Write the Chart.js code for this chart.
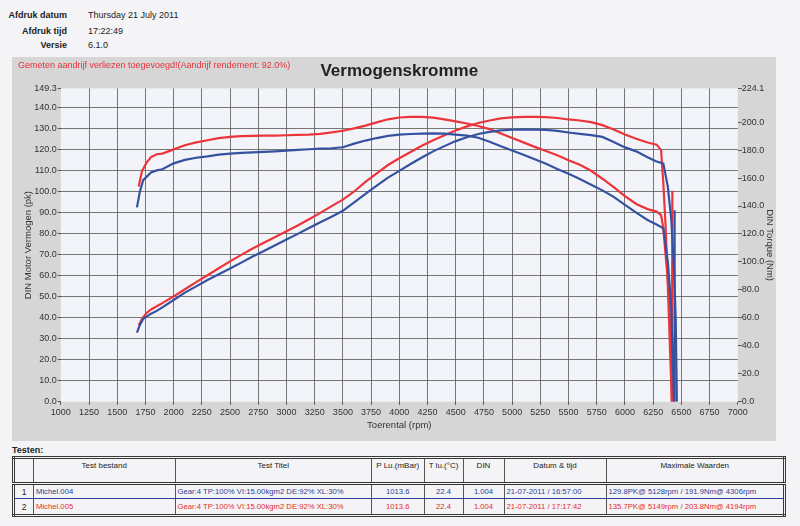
<!DOCTYPE html>
<html>
<head>
<meta charset="utf-8">
<script src="https://cdn.jsdelivr.net/npm/chart.js@4.4.0/dist/chart.umd.min.js"></script>
<style>
body { margin: 0; width: 800px; height: 526px; position: relative; overflow: hidden; background: #f4f4f6; font-family: 'Liberation Sans', Arial, sans-serif; color: #222; }
.lbl { position: absolute; font-size: 9px; font-weight: bold; text-align: right; width: 67px; left: 0; }
.val { position: absolute; font-size: 9px; left: 88px; }
#frame { position: absolute; left: 12px; top: 57px; width: 764px; height: 384px; background: #d6d6d6; }
#note { position: absolute; left: 18px; top: 60px; font-size: 9px; color: #e8303a; }
#testen { position: absolute; left: 12px; top: 445px; font-size: 9px; font-weight: bold; }
table { position: absolute; left: 12px; top: 456px; width: 772px; border-collapse: collapse; table-layout: fixed;
        border: 3px double #3a3a3a; font-size: 7.7px; font-family: 'Liberation Sans', Arial, sans-serif; }
td, th { border: 1px solid #555; padding: 0 2px; white-space: nowrap; overflow: hidden; }
th { font-weight: normal; height: 21px; vertical-align: top; padding-top: 2px; border-bottom: 3px double #333; color: #222; font-size: 8px; }
tr.r1 td { height: 13px; color: #2b3d98; border-bottom: 1px solid #2b3d98; }
tr.r2 td { height: 15px; color: #e42b2b; }
td.c { text-align: center; }
td.n { color: #222 !important; text-align: center; font-size: 8.5px; }
</style>
</head>
<body>
<div class="lbl" style="top:10px">Afdruk datum</div>
<div class="val" style="top:10px">Thursday 21 July 2011</div>
<div class="lbl" style="top:26px">Afdruk tijd</div>
<div class="val" style="top:26px">17:22:49</div>
<div class="lbl" style="top:40px">Versie</div>
<div class="val" style="top:40px">6.1.0</div>

<div id="frame"><canvas id="dynoChart" width="764" height="384"></canvas></div>
<div id="note">Gemeten aandrijf verliezen toegevoegd!(Aandrijf rendement: 92.0%)</div>

<div id="testen">Testen:</div>
<table>
  <colgroup>
    <col style="width:20px"><col style="width:141.5px"><col style="width:196.5px"><col style="width:52.5px">
    <col style="width:39px"><col style="width:41px"><col style="width:102px"><col style="width:178.5px">
  </colgroup>
  <tr><th></th><th>Test bestand</th><th>Test Titel</th><th>P Lu.(mBar)</th><th>T lu.(°C)</th><th>DIN</th><th>Datum &amp; tijd</th><th>Maximale Waarden</th></tr>
  <tr class="r1"><td class="n">1</td><td>Michel.004</td><td>Gear:4 TP:100% VI:15.00kgm2 DE:92% XL:30%</td><td class="c">1013.6</td><td class="c">22.4</td><td class="c">1.004</td><td>21-07-2011 / 16:57:00</td><td>129.8PK@ 5128rpm / 191.9Nm@ 4306rpm</td></tr>
  <tr class="r2"><td class="n">2</td><td>Michel.005</td><td>Gear:4 TP:100% VI:15.00kgm2 DE:92% XL:30%</td><td class="c">1013.6</td><td class="c">22.4</td><td class="c">1.004</td><td>21-07-2011 / 17:17:42</td><td>135.7PK@ 5149rpm / 203.8Nm@ 4194rpm</td></tr>
</table>

<script>
// ==================== DYNO DATA ====================

// Michel.004 (blue)
const blueRpm = [1675, 1700, 1730, 1800, 1850, 1900,
    2000, 2100, 2200, 2300, 2400, 2500, 2600, 2700, 2800, 2900,
    3000, 3100, 3200, 3300, 3400, 3500, 3600, 3700, 3800, 3900,
    4000, 4100, 4200, 4300, 4400, 4500, 4600, 4700, 4800, 4900,
    5000, 5100, 5200, 5300, 5400, 5500, 5600, 5700, 5800, 5900,
    6000, 6100, 6200, 6280, 6340, 6380, 6410, 6435, 6440, 6450, 6460];
const bluePower = [33, 36.5, 39.5, 42, 43.3, 45,
    48.5, 52, 55, 58, 60.8, 63.5, 66.3, 69.2, 71.8, 74.6,
    77.3, 80, 82.8, 85.5, 88.2, 91, 95, 99, 103, 106.8,
    110, 113.3, 116.4, 119.3, 121.8, 124.2, 126, 127.6, 128.6, 129.3,
    129.6, 129.8, 129.7, 129.5, 129.1, 128.3, 127.6, 127, 126.2, 123.8,
    121.2, 119.3, 116.5, 114.5, 113.5, 102.4, 87, 63, null, 39, 0];
const blueTorque = [139, 150, 158.5, 164, 165.5, 166.3,
    170.5, 173, 174.5, 175.5, 176.7, 177.5, 178, 178.3, 178.7, 179.1,
    179.6, 180.1, 180.6, 181, 181.3, 182, 184.6, 186.8, 188.6, 190.2,
    191, 191.5, 191.8, 191.9, 191.7, 191.1, 190.3, 188.8, 186, 182.8,
    179.7, 176.6, 173.4, 170.3, 166.5, 163, 159.3, 155.2, 151.2, 146.5,
    140.8, 135.3, 130, 126.8, 124, 100, 68, 0, 137, null, null];

// Michel.005 (red)
const redRpm = [1690, 1720, 1760, 1800, 1850, 1900,
    2000, 2100, 2200, 2300, 2400, 2500, 2600, 2700, 2800, 2900,
    3000, 3100, 3200, 3300, 3400, 3500, 3600, 3700, 3800, 3900,
    4000, 4100, 4200, 4300, 4400, 4500, 4600, 4700, 4800, 4900,
    5000, 5100, 5200, 5300, 5400, 5500, 5600, 5700, 5800, 5900,
    6000, 6100, 6200, 6280, 6320, 6340, 6360, 6380, 6400, 6416, 6420];
const redPower = [36.5, 39.5, 42.3, 44, 45.5, 47,
    50.2, 53.6, 57, 60.3, 63.6, 66.9, 70, 73, 75.8, 78.5,
    81.2, 84, 87, 90, 93.2, 96.3, 100.2, 104.8, 108.8, 112.8,
    116, 119, 122, 124.6, 127, 129.2, 131.2, 132.8, 134, 135,
    135.5, 135.7, 135.7, 135.6, 135.2, 134.5, 134, 133.2, 131.8, 129.7,
    127.3, 125.3, 123.5, 122.5, 120, 104, 84, 55, 24, 0, null];
const redTorque = [154, 165, 171, 175, 177, 177.5,
    180.5, 183.5, 185.5, 187, 188.5, 189.5, 190, 190.2, 190.3, 190.3,
    190.6, 190.9, 191, 191.6, 192.6, 193.8, 195.5, 197.5, 199.8, 202,
    203.3, 203.8, 203.8, 203.2, 202, 200.5, 199, 197.2, 195, 191.8,
    188.7, 185.5, 182.3, 179.3, 176.3, 172.8, 169.5, 165.2, 159.5, 153.5,
    147, 141.5, 137.8, 136, 133.5, 124, 105, 87, 60, 0, 151];

// Axis ticks
const powerTicks = [0, 10, 20, 30, 40, 50, 60, 70, 80, 90, 100, 110, 120, 130, 140, 149.3];
const torqueTicks = [0, 20, 40, 60, 80, 100, 120, 140, 160, 180, 200, 224.1];

const BLUE = 'rgb(52, 82, 160)';
const RED = 'rgb(236, 52, 58)';
const GRID = 'rgba(95, 95, 95, 0.85)';
const TICK_FONT = { family: "'Liberation Sans', Arial, sans-serif", size: 9 };
const TITLE_FONT = { family: "'Liberation Sans', Arial, sans-serif", size: 9.5 };

function toPoints(rpm, values) {
    return rpm.map((r, i) => ({ x: r, y: values[i] }));
}

// Plot area background
const plotBackground = {
    id: 'plotBackground',
    beforeDraw(chart) {
        const { ctx, chartArea } = chart;
        ctx.save();
        ctx.fillStyle = '#f2f4f9';
        ctx.fillRect(chartArea.left, chartArea.top, chartArea.right - chartArea.left, chartArea.bottom - chartArea.top);
        ctx.restore();
    }
};

function lineSet(label, rpm, values, color, axis) {
    return {
        label: label,
        data: toPoints(rpm, values),
        borderColor: color,
        backgroundColor: color,
        borderWidth: 2.2,
        pointRadius: 0,
        tension: 0,
        spanGaps: true,
        yAxisID: axis
    };
}

const ctx = document.getElementById('dynoChart').getContext('2d');
new Chart(ctx, {
    type: 'line',
    data: {
        datasets: [
            lineSet('Michel.004 Vermogen', blueRpm, bluePower, BLUE, 'yPower'),
            lineSet('Michel.004 Torque', blueRpm, blueTorque, BLUE, 'yTorque'),
            lineSet('Michel.005 Vermogen', redRpm, redPower, RED, 'yPower'),
            lineSet('Michel.005 Torque', redRpm, redTorque, RED, 'yTorque')
        ]
    },
    options: {
        responsive: false,
        animation: false,
        layout: { padding: 0 },
        plugins: {
            legend: { display: false },
            tooltip: { enabled: false },
            title: {
                display: true,
                text: 'Vermogenskromme',
                fullSize: false,
                color: '#222',
                font: { family: "'Liberation Sans', Arial, sans-serif", size: 17, weight: 'bold' },
                padding: { top: 4, bottom: 7 }
            }
        },
        scales: {
            x: {
                type: 'linear',
                min: 1000,
                max: 7000,
                afterFit: s => { s.height = 39.2; },
                border: { display: false },
                grid: {
                    color: c => (c.tick && (c.tick.value === 1000 || c.tick.value === 7000)) ? 'transparent' : GRID,
                    tickColor: '#555',
                    tickLength: 3
                },
                ticks: { stepSize: 250, autoSkip: false, maxRotation: 0, color: '#333', font: TICK_FONT, padding: 2,
                         callback: v => String(v) },
                title: { display: true, text: 'Toerental (rpm)', color: '#333', font: TITLE_FONT, padding: { top: 0, bottom: 10 } }
            },
            yPower: {
                position: 'left',
                min: 0,
                max: 149.3,
                afterFit: s => { s.width = 48.8; },
                afterBuildTicks: s => { s.ticks = powerTicks.map(v => ({ value: v })); },
                border: { display: false },
                grid: {
                    color: c => (c.tick && (c.tick.value === 0 || c.tick.value === 149.3)) ? 'transparent' : GRID,
                    tickColor: '#555',
                    tickLength: 3
                },
                ticks: { color: '#333', font: TICK_FONT, padding: 1, callback: v => v.toFixed(1) },
                title: { display: true, text: 'DIN Motor Vermogen (pk)', color: '#333', font: TITLE_FONT, padding: { top: 10.3, bottom: 0 } }
            },
            yTorque: {
                position: 'right',
                min: 0,
                max: 224.1,
                afterFit: s => { s.width = 38.2; },
                afterBuildTicks: s => { s.ticks = torqueTicks.map(v => ({ value: v })); },
                border: { display: false },
                grid: { drawOnChartArea: false, tickColor: '#555', tickLength: 4 },
                ticks: { color: '#333', font: TICK_FONT, padding: 0, callback: v => v.toFixed(1) },
                title: { display: true, text: 'DIN Torque (Nm)', color: '#333', font: TITLE_FONT, padding: { top: 0.3, bottom: 0 } }
            }
        }
    },
    plugins: [plotBackground]
});
</script>
</body>
</html>
